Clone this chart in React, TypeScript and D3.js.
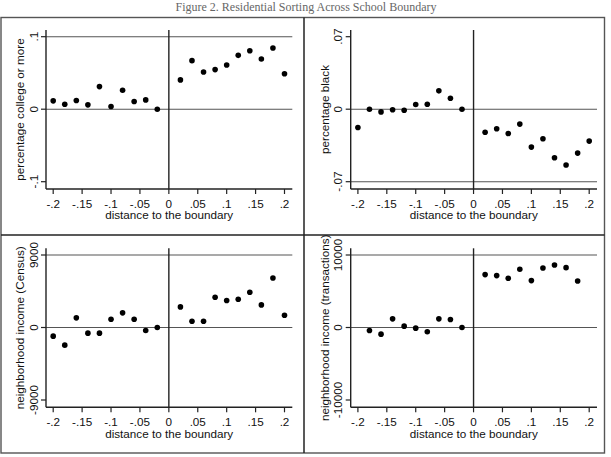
import React from "react";
import * as d3 from "d3";

const title = "Figure 2. Residential Sorting Across School Boundary";
const xTickValues = [-0.2, -0.15, -0.1, -0.05, 0, 0.05, 0.1, 0.15, 0.2];
const xTickLabels = ["-.2", "-.15", "-.1", "-.05", "0", ".05", ".1", ".15", ".2"];
const bins = [-0.2, -0.18, -0.16, -0.14, -0.12, -0.1, -0.08, -0.06, -0.04, -0.02,
  0.02, 0.04, 0.06, 0.08, 0.1, 0.12, 0.14, 0.16, 0.18, 0.2];
const xTitle = "distance to the boundary";

const collegeValues = [0.0115, 0.0069, 0.0119, 0.006, 0.0312, 0.0037, 0.0261, 0.0106, 0.0128, 0,
  0.0404, 0.067, 0.0514, 0.0546, 0.061, 0.0743, 0.0807, 0.0693, 0.0844, 0.049];
const blackValues = [-0.0177, 0, -0.0026, -0.0006, -0.001, 0.0045, 0.0048, 0.0177, 0.0106, 0,
  -0.0222, -0.0189, -0.0234, -0.0144, -0.0366, -0.0286, -0.0469, -0.0539, -0.0424, -0.0308];
const censusValues = [-1073, -2188, 1197, -702, -702, 1032, 1817, 1032, -372, 0,
  2560, 784, 784, 3757, 3344, 3509, 4376, 2807, 6151, 1528];
const transValues = [null, -413, -917, 1193, 183, -92, -596, 1193, 1101, 0,
  7294, 7156, 6789, 8028, 6468, 8211, 8624, 8257, 6422, null];

const collegeTicks = [-0.1, 0, 0.1];
const collegeTickLabels = ["-.1", "0", ".1"];
const blackTicks = [-0.07, 0, 0.07];
const blackTickLabels = ["-.07", "0", ".07"];
const censusTicks = [-9000, 0, 9000];
const censusTickLabels = ["-9000", "0", "9000"];
const transTicks = [-10000, 0, 10000];
const transTickLabels = ["-10000", "0", "10000"];

const panels = [
  { ox: 0, oy: 0, yTitle: "percentage college or more", values: collegeValues, ticks: collegeTicks, labels: collegeTickLabels, lines: [0, 0.1] },
  { ox: 304.7, oy: 0, yTitle: "percentage black", values: blackValues, ticks: blackTicks, labels: blackTickLabels, lines: [0, -0.07] },
  { ox: 0, oy: 218.3, yTitle: "neighborhood income (Census)", values: censusValues, ticks: censusTicks, labels: censusTickLabels, lines: [0, 9000] },
  { ox: 304.7, oy: 218.3, yTitle: "neighborhood income (transactions)", values: transValues, ticks: transTicks, labels: transTickLabels, lines: [0, 10000] },
];

const FONT = "'Liberation Sans', Arial, Helvetica, sans-serif";
const FS = 11.7;

function Panel({ p }: { p: any }) {
  const left = 46, right = 292.3, top = 30, bottom = 189;
  const x = d3.scaleLinear().domain([-0.2, 0.2]).range([53.2, 284.5]);
  const step = p.ticks[2];
  const y = d3.scaleLinear().domain([-step, step]).range([181.7, 36.7]);
  const yMid = (top + bottom) / 2;
  return (
    <g transform={`translate(${p.ox},${p.oy})`}>
      {p.lines.map((v: number, i: number) => (
        <line key={"g" + i} x1={left} x2={right} y1={y(v)} y2={y(v)} stroke="#555" strokeWidth={1.1} />
      ))}
      <line x1={x(0)} x2={x(0)} y1={top} y2={bottom} stroke="#222" strokeWidth={1.4} />
      <line x1={left} x2={left} y1={top} y2={bottom} stroke="#222" strokeWidth={1.4} />
      <line x1={left} x2={right} y1={bottom} y2={bottom} stroke="#222" strokeWidth={1.4} />
      {p.ticks.map((v: number, i: number) => (
        <g key={"yt" + i}>
          <line x1={left - 5} x2={left} y1={y(v)} y2={y(v)} stroke="#222" strokeWidth={1.2} />
          <text transform={`translate(37.5,${y(v)}) rotate(-90)`} textAnchor="middle"
            fontFamily={FONT} fontSize={FS} fill="#111">{p.labels[i]}</text>
        </g>
      ))}
      {xTickValues.map((v, i) => (
        <g key={"xt" + i}>
          <line x1={x(v)} x2={x(v)} y1={bottom} y2={bottom + 5} stroke="#222" strokeWidth={1.2} />
          <text x={x(v)} y={207.5} textAnchor="middle" fontFamily={FONT} fontSize={FS} fill="#111">{xTickLabels[i]}</text>
        </g>
      ))}
      <text x={(left + right) / 2} y={219.3} textAnchor="middle" fontFamily={FONT} fontSize={FS} fill="#111">{xTitle}</text>
      <text transform={`translate(24.3,${yMid}) rotate(-90)`} textAnchor="middle"
        fontFamily={FONT} fontSize={FS} fill="#111">{p.yTitle}</text>
      {bins.map((b, i) => p.values[i] == null ? null : (
        <circle key={"c" + i} cx={x(b)} cy={y(p.values[i])} r={2.8} fill="#000" />
      ))}
    </g>
  );
}

export default function App() {
  return (
    <svg width={611} height={457} style={{ position: "absolute", left: 0, top: 0, background: "#fff" }}>
      <rect x={0} y={0} width={611} height={457} fill="#fff" />
      <text x={306} y={10.5} textAnchor="middle" fontFamily="'Liberation Serif', 'Times New Roman', serif"
        fontSize={12} fill="#666">{title}</text>
      <rect x={1} y={17.5} width={603.5} height={435.5} fill="none" stroke="#555" strokeWidth={1.4} />
      <line x1={304} x2={304} y1={17.5} y2={453} stroke="#222" strokeWidth={1.5} />
      <line x1={1} x2={604.5} y1={235} y2={235} stroke="#222" strokeWidth={1.5} />
      {panels.map((p, i) => <Panel key={i} p={p} />)}
    </svg>
  );
}
